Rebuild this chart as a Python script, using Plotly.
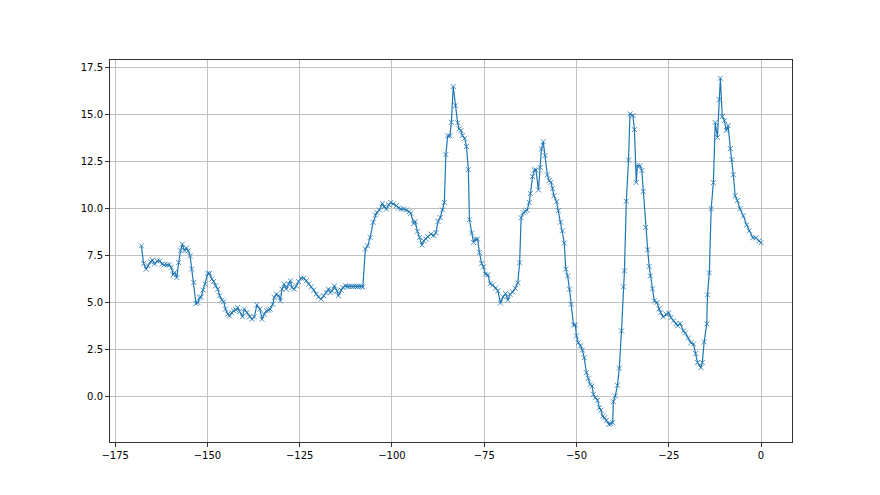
import plotly.graph_objects as go

x_vals = [
    -167.9, -167.3, -166.6, -166.1, -165.4, -164.9, -164.3, -163.6, -162.9, -162.3,
    -161.7, -160.9, -160.3, -159.8, -159.3, -158.9, -158.3, -157.8, -157.3, -156.8,
    -156.2, -155.7, -155.2, -154.7, -154.3, -153.7, -153.1, -152.6, -152.1, -151.7,
    -151.2, -150.6, -149.9, -149.4, -148.8, -148.3, -147.8, -147.2, -146.7, -146.1,
    -145.6, -145.1, -144.5, -144.0, -143.4, -142.9, -142.3, -141.8, -141.3, -140.5,
    -140.0, -139.3, -138.6, -137.9, -137.3, -136.6, -135.8, -135.2, -134.6, -134.0,
    -133.4, -133.0, -132.3, -131.9, -131.3, -130.7, -130.2, -129.8, -129.2, -128.6,
    -128.0, -127.5, -127.1, -126.5, -125.9, -125.3, -124.6, -123.9, -123.2, -122.6,
    -121.9, -121.2, -120.5, -119.9, -119.2, -118.5, -117.8, -117.2, -116.7, -116.2,
    -115.6, -114.9, -114.5, -113.8, -113.3, -112.6, -112.1, -111.6, -111.0, -110.5,
    -109.9, -109.4, -108.9, -108.3, -107.9, -107.2, -106.6, -105.9, -105.1, -104.5,
    -104.1, -103.4, -102.6, -102.1, -101.5, -100.9, -100.3, -99.6, -98.8, -98.2,
    -97.6, -96.9, -96.1, -95.4, -94.9, -94.1, -93.7, -93.1, -92.5, -91.9,
    -91.4, -90.8, -90.3, -89.4, -88.7, -88.1, -87.5, -86.9, -86.3, -85.8,
    -85.4, -84.9, -84.3, -83.9, -83.4, -82.8, -82.2, -81.8, -81.3, -80.9,
    -80.3, -79.8, -79.3, -79.0, -78.4, -77.9, -77.4, -76.8, -76.3, -75.7,
    -75.2, -74.7, -74.0, -73.4, -72.7, -71.9, -71.3, -70.6, -69.9, -69.2,
    -68.6, -68.0, -67.3, -66.6, -65.9, -65.4, -65.0, -64.4, -63.9, -63.4,
    -62.8, -62.5, -61.9, -61.4, -61.0, -60.3, -59.8, -59.5, -59.0, -58.5,
    -57.9, -57.4, -56.9, -56.5, -56.1, -55.4, -54.9, -54.3, -53.8, -53.3,
    -52.9, -52.4, -51.9, -51.4, -50.8, -50.3, -50.0, -49.5, -48.9, -48.4,
    -47.9, -47.3, -46.8, -46.3, -45.8, -45.4, -44.9, -44.3, -43.8, -43.4,
    -42.9, -42.4, -41.9, -41.2, -40.7, -40.2, -40.0, -39.5, -38.9, -38.4,
    -37.8, -37.3, -37.0, -36.5, -35.9, -35.5, -34.7, -34.3, -33.8, -33.5,
    -32.8, -32.3, -31.9, -31.3, -30.7, -30.3, -30.0, -29.4, -28.9, -28.2,
    -27.6, -27.2, -26.5, -25.7, -25.0, -24.4, -23.7, -23.0, -22.6, -21.9,
    -21.0, -20.5, -19.7, -19.0, -18.3, -17.7, -17.2, -16.3, -15.9, -15.4,
    -14.7, -14.5, -14.0, -13.5, -12.9, -12.4, -11.8, -11.3, -11.0, -10.5,
    -9.9, -9.4, -8.9, -8.3, -7.9, -7.5, -7.0, -6.4, -5.7, -4.8,
    -3.9, -3.2, -2.2, -1.4, -0.5, 0.0,
]

y_vals = [
    8.00, 7.06, 6.76, 6.94, 7.15, 7.24, 7.03, 7.20, 7.20, 7.03,
    6.99, 6.99, 6.99, 6.85, 6.46, 6.58, 6.31, 7.11, 7.74, 8.09,
    7.74, 7.88, 7.74, 7.47, 6.76, 6.05, 4.93, 4.98, 5.25, 5.28,
    5.64, 5.96, 6.53, 6.53, 6.23, 6.10, 5.87, 5.69, 5.34, 5.11,
    5.03, 4.63, 4.36, 4.27, 4.44, 4.54, 4.59, 4.71, 4.50, 4.22,
    4.63, 4.44, 4.22, 4.09, 4.22, 4.86, 4.63, 4.09, 4.36, 4.54,
    4.57, 4.63, 4.89, 5.25, 5.43, 5.34, 5.07, 5.69, 5.96, 5.69,
    5.96, 6.14, 5.78, 5.69, 5.87, 6.10, 6.28, 6.28, 6.14, 5.96,
    5.82, 5.64, 5.43, 5.28, 5.16, 5.34, 5.51, 5.69, 5.51, 5.60,
    5.87, 5.60, 5.34, 5.64, 5.78, 5.87, 5.84, 5.84, 5.84, 5.84,
    5.84, 5.84, 5.84, 5.84, 5.80, 7.83, 8.00, 8.45, 9.25, 9.64,
    9.78, 9.91, 10.26, 10.08, 9.96, 10.19, 10.31, 10.23, 10.14, 10.02,
    9.96, 9.96, 9.91, 9.82, 9.73, 9.19, 9.30, 8.77, 8.45, 8.04,
    8.27, 8.36, 8.48, 8.63, 8.54, 8.71, 9.30, 9.51, 9.91, 10.31,
    12.86, 13.86, 13.86, 14.58, 16.49, 15.47, 14.55, 14.23, 14.14, 13.87,
    13.73, 13.29, 12.06, 9.39, 8.68, 8.18, 8.36, 8.36, 7.65, 7.06,
    6.88, 6.49, 6.46, 5.99, 5.91, 5.75, 5.60, 4.95, 5.28, 5.46,
    5.11, 5.42, 5.55, 5.74, 6.03, 7.10, 9.50, 9.76, 9.84, 9.90,
    10.31, 10.79, 11.69, 12.04, 12.04, 10.98, 12.18, 13.16, 13.55, 12.81,
    11.78, 11.47, 11.38, 11.06, 10.67, 10.35, 9.87, 9.26, 8.80, 8.15,
    6.76, 6.40, 5.69, 4.89, 3.79, 3.79, 3.20, 2.84, 2.67, 2.45,
    2.04, 1.24, 0.94, 0.62, 0.53, 0.09, -0.09, -0.23, -0.62, -0.76,
    -1.07, -1.16, -1.30, -1.51, -1.48, -1.42, -0.30, 0.00, 0.57, 1.48,
    3.47, 5.82, 6.67, 10.38, 12.57, 15.03, 14.94, 14.19, 11.38, 12.27,
    12.27, 12.01, 10.90, 8.98, 7.79, 6.90, 6.40, 5.71, 5.07, 4.98,
    4.64, 4.44, 4.22, 4.36, 4.43, 4.18, 4.00, 3.86, 3.74, 3.86,
    3.47, 3.35, 3.09, 2.83, 2.77, 2.26, 1.78, 1.51, 1.78, 2.88,
    3.84, 5.39, 6.56, 9.98, 11.37, 14.57, 13.77, 15.79, 16.93, 14.89,
    14.67, 14.14, 14.41, 13.18, 12.59, 11.79, 10.67, 10.41, 9.98, 9.60,
    9.12, 8.80, 8.43, 8.43, 8.27, 8.16,
]

x_ticks = [-175, -150, -125, -100, -75, -50, -25, 0]
y_ticks = [0.0, 2.5, 5.0, 7.5, 10.0, 12.5, 15.0, 17.5]

color = "#1f77b4"

fig = go.Figure()
fig.add_trace(go.Scatter(
    x=x_vals, y=y_vals, mode="lines+markers",
    line=dict(color=color, width=1.2),
    marker=dict(symbol="x-thin", size=5, opacity=0.8, line=dict(color=color, width=1)),
    showlegend=False,
))

axis_common = dict(
    showline=True, linecolor="#333333", linewidth=1, mirror=True,
    showgrid=True, gridcolor="#c0c0c0", gridwidth=0.8,
    ticks="outside", ticklen=4, tickcolor="#333333", tickwidth=1,
    zeroline=False,
    tickfont=dict(family="DejaVu Sans", size=10, color="black"),
)

fig.update_xaxes(range=[-176.4, 8.4], tickvals=x_ticks, **axis_common)
fig.update_yaxes(range=[-2.45, 17.9], tickvals=y_ticks, tickformat=".1f", **axis_common)

fig.update_layout(
    width=880, height=495,
    margin=dict(l=102, r=96, t=52, b=61),
    plot_bgcolor="white", paper_bgcolor="white",
)

fig.write_html("out.html")
